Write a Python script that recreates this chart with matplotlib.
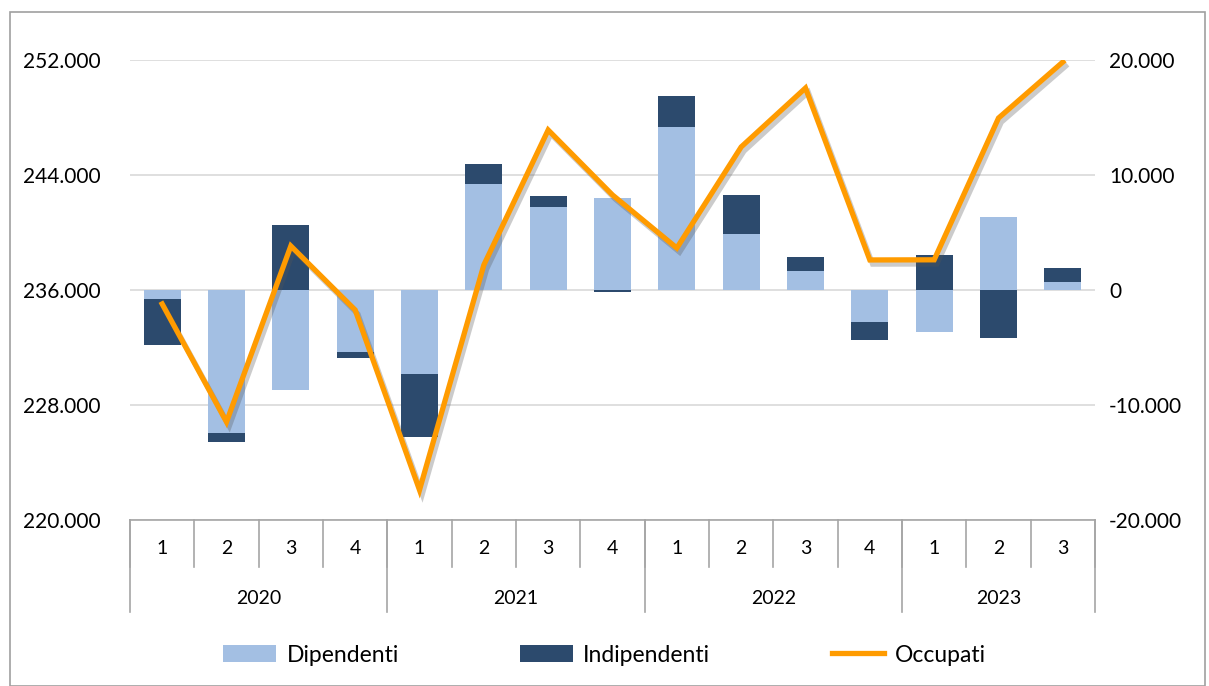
import matplotlib
matplotlib.use("Agg")
import matplotlib.pyplot as plt
import matplotlib.patheffects as pe
from matplotlib.patches import Rectangle
from matplotlib.lines import Line2D
from matplotlib.patches import Patch
from matplotlib.ticker import FuncFormatter
import numpy as np

plt.rcParams['font.family'] = ['Lato', 'DejaVu Sans']

quarters = ['1', '2', '3', '4', '1', '2', '3', '4', '1', '2', '3', '4', '1', '2', '3']
years = ['2020', '2021', '2022', '2023']
year_counts = [4, 4, 4, 3]

dipendenti = [-780, -12430, -8700, -5390, -7300, 9220, 7220, 8000,
              14170, 4870, 1650, -2780, -3650, 6350, 700]
indipendenti = [-4000, -780, 5650, -520, -5480, 1740, 960, -150,
                2700, 3390, 1220, -1570, 3040, -4170, 1220]
occupati = [235030, 226820, 239060, 234610, 222090, 237740, 247130, 242610,
            238920, 245950, 250050, 238090, 238100, 247960, 251860]

C_DIP = '#A3BFE3'
C_IND = '#2C4A6D'
C_OCC = '#FF9B00'
GRID = '#D9D9D9'
AXC = '#A6A6A6'

fig = plt.figure(figsize=(12.09, 6.86), dpi=100)
W, H = 1209, 686

# chart border
fig.patches.append(Rectangle((10 / W, 0), (1205 - 10) / W, 1 - 12 / H,
                             transform=fig.transFigure, fill=False,
                             edgecolor='#A0A0A0', linewidth=1.2))

left, right, top, bottom = 130 / W, 1095 / W, 1 - 60 / H, 1 - 520 / H
ax = fig.add_axes([left, bottom, right - left, top - bottom])
x = np.arange(len(quarters))

dip = np.array(dipendenti, dtype=float)
ind = np.array(indipendenti, dtype=float)
ind_bottom = np.where(np.sign(ind) == np.sign(dip), dip, 0.0)
bw = 0.57
ax.bar(x, dip, width=bw, color=C_DIP, zorder=2)
ax.bar(x, ind, width=bw, bottom=ind_bottom, color=C_IND, zorder=2)

ax.set_ylim(-20000, 20000)
ax.set_yticks(np.arange(-20000, 20001, 10000))
ax.set_xlim(-0.5, len(quarters) - 0.5)
fmt = FuncFormatter(lambda v, p: f"{int(v):,}".replace(',', '.'))
ax.set_xticks([])
for s in ax.spines.values():
    s.set_visible(False)
ax.grid(axis='y', color=GRID, linewidth=1.2, zorder=0)
ax.set_axisbelow(True)

ax2 = ax.twinx()
ax2.plot(x, occupati, color=C_OCC, linewidth=3.8, solid_joinstyle='miter', zorder=5,
         path_effects=[pe.SimpleLineShadow(offset=(2, -3), shadow_color='#555555', alpha=0.3),
                       pe.Normal()])
ax2.set_ylim(220000, 252000)
ax2.set_yticks(np.arange(220000, 252001, 8000))
ax2.yaxis.tick_left()
ax2.yaxis.set_major_formatter(fmt)
ax2.tick_params(axis='y', length=0, pad=21, labelsize=15, colors='#000000')
for s in ax2.spines.values():
    s.set_visible(False)

ax.yaxis.tick_right()
ax.yaxis.set_label_position('right')
ax.yaxis.set_major_formatter(fmt)
ax.tick_params(axis='y', which='both', left=False, labelleft=False, right=False,
               labelright=True, length=0, pad=10, labelsize=15, colors='#000000')

# multi-level category axis
tr = ax.get_xaxis_transform()
y_q = -(567 - 520) / 460
y_y = -(612 - 520) / 460
ax.plot([-0.5, len(quarters) - 0.5], [0, 0], color=AXC, linewidth=1.2, transform=tr, clip_on=False)
for i in range(len(quarters) + 1):
    xb = i - 0.5
    ax.plot([xb, xb], [0, y_q], color=AXC, linewidth=1.2, transform=tr, clip_on=False)
for i, q in enumerate(quarters):
    ax.text(i, -(549 - 520) / 460, q, transform=tr, ha='center', va='center', fontsize=14)
start = 0
ax.plot([-0.5, -0.5], [0, y_y], color=AXC, linewidth=1.2, transform=tr, clip_on=False)
for yr, n in zip(years, year_counts):
    end = start + n
    ax.plot([end - 0.5, end - 0.5], [0, y_y], color=AXC, linewidth=1.2, transform=tr, clip_on=False)
    ax.text((start + end - 1) / 2, -(598 - 520) / 460, yr, transform=tr,
            ha='center', va='center', fontsize=14)
    start = end

handles = [Patch(facecolor=C_DIP, label='Dipendenti'),
           Patch(facecolor=C_IND, label='Indipendenti'),
           Line2D([0], [0], color=C_OCC, linewidth=3.8, label='Occupati')]
fig.legend(handles=handles, loc='center', bbox_to_anchor=(0.5, 1 - 655 / H), ncol=3,
           frameon=False, fontsize=16.5, handlelength=2.3, handleheight=0.8,
           handletextpad=0.45, columnspacing=5.3)

fig.savefig('out.png', dpi=100)
